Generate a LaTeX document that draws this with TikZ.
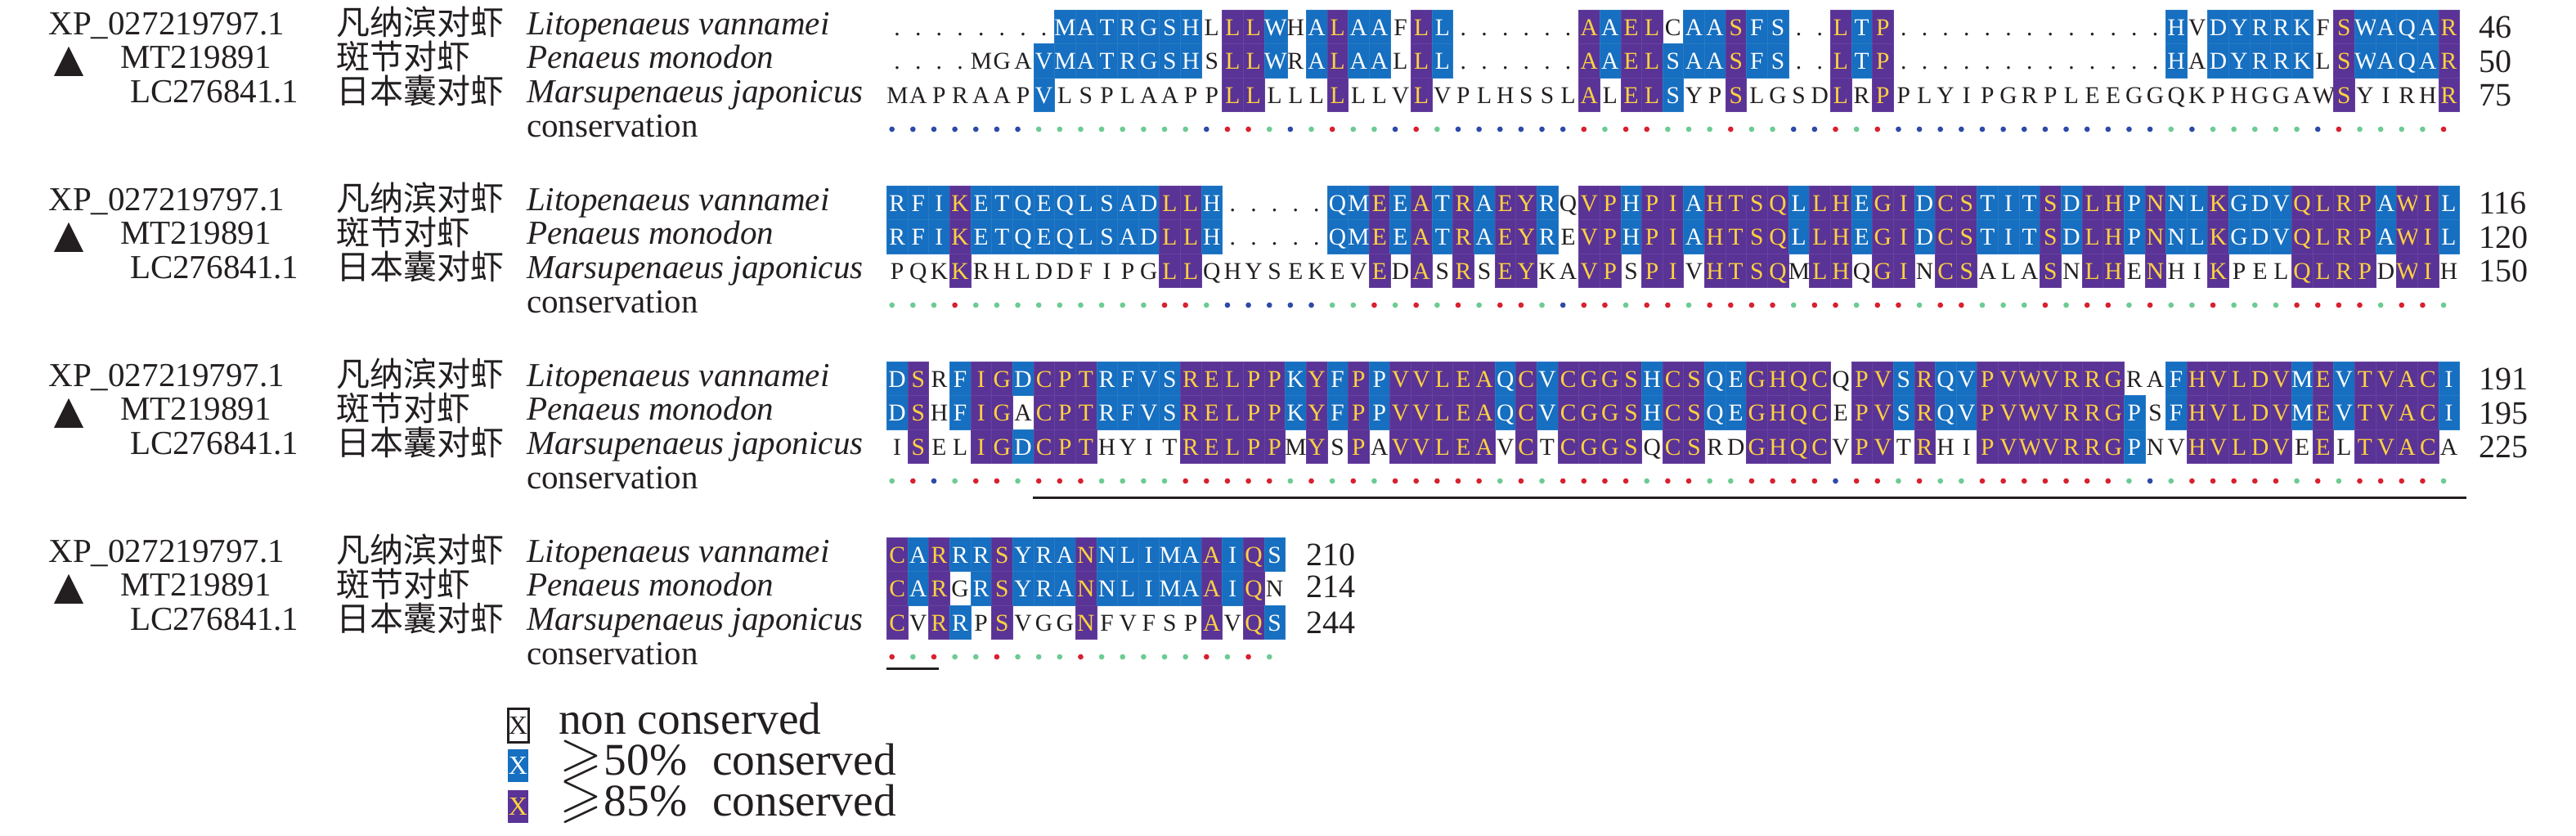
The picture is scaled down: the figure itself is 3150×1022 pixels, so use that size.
\documentclass[tikz,border=0pt]{standalone}
\usepackage{amssymb}
\usepackage{fontspec}
\setmainfont{Liberation Serif}
\newfontfamily\cjkfont{Noto Sans CJK SC}

\definecolor{inkblack}{HTML}{231F20}
\definecolor{consblue}{HTML}{166FC0}
\definecolor{conspurple}{HTML}{5A3396}
\definecolor{consyellow}{HTML}{FFD23F}
\definecolor{dotred}{HTML}{D9202E}
\definecolor{dotgreen}{HTML}{6CCB94}
\definecolor{dotblue}{HTML}{2D4AA8}

\newcount\colidx
% one row of residues: tag, top, letters, classes (n, b, p)
\def\scanrow#1#2\relax#3#4\relax{%
  \node[cell#3] (\rowtag-\the\colidx) at (1084.3+25.64*\the\colidx, \rowtop) {#1};%
  \advance\colidx by 1
  \ifx\relax#2\relax\else\scanrow#2\relax#4\relax\fi}
\newcommand{\seqrow}[4]{%
  \def\rowtag{#1}\def\rowtop{#2}\colidx=0
  \scanrow#3\relax#4\relax}
% the row of conservation dots: tag, y, classes (r, g, b)
\def\scandots#1#2\relax{%
  \node[dot#1] (\rowtag-\the\colidx) at (1090.7+25.64*\the\colidx, \rowtop) {};%
  \advance\colidx by 1
  \ifx\relax#2\relax\else\scandots#2\relax\fi}
\newcommand{\dotrow}[3]{%
  \def\rowtag{#1}\def\rowtop{#2}\colidx=0
  \scandots#3\relax}
\newcommand{\bigge}{{\fontsize{19}{19}\selectfont$\geqslant$}}

\begin{document}
\begin{tikzpicture}[
    x = 0.01cm,
    y = -0.01cm,
    every node/.style = {
      inner sep = 0pt,
      outer sep = 0pt,
      text = inkblack
    },
    cellbase/.style = {
      anchor = north west,
      minimum width = 0.2564cm,
      text height = 0.31cm,
      text depth = 0.105cm,
      font = \fontsize{8.4}{10}\selectfont
    },
    celln/.style = {
      cellbase
    },
    cellb/.style = {
      cellbase,
      fill = consblue,
      draw = consblue!92!white,
      line width = 0.1pt,
      text = white
    },
    cellp/.style = {
      cellbase,
      fill = conspurple,
      draw = conspurple!92!white,
      line width = 0.1pt,
      text = consyellow
    },
    dotbase/.style = {
      shape = circle,
      minimum size = 0.067cm
    },
    dotr/.style = {
      dotbase,
      fill = dotred
    },
    dotg/.style = {
      dotbase,
      fill = dotgreen
    },
    dotb/.style = {
      dotbase,
      fill = dotblue
    },
    idtext/.style = {
      anchor = base west,
      font = \fontsize{11.67}{13}\selectfont
    },
    cntext/.style = {
      anchor = base west,
      font = \fontsize{11.67}{13}\selectfont\cjkfont
    },
    latintext/.style = {
      anchor = base west,
      font = \fontsize{11.67}{13}\selectfont\itshape
    },
    numtext/.style = {
      anchor = base west,
      font = \fontsize{11.38}{13}\selectfont
    },
    keytext/.style = {
      anchor = base west,
      font = \fontsize{15.75}{18}\selectfont
    },
    keybase/.style = {
      anchor = north west,
      minimum width = 0.25cm,
      text height = 0.30cm,
      text depth = 0.10cm,
      font = \fontsize{9.1}{11}\selectfont
    },
    underline/.style = {
      draw = inkblack,
      line width = 0.03cm
    }
  ]
    \useasboundingbox (0, 0) rectangle (3150, 1022);

    \foreach \blk/\ytop in {1/12, 2/227, 3/442, 4/657} {
      \node[idtext] (xp\blk) at (59.5, \ytop+31) {XP\_027219797.1};
      \node[idtext] (mt\blk) at (147, \ytop+71.5) {MT219891};
      \node[idtext] (lc\blk) at (159, \ytop+113.5) {LC276841.1};
      \fill[inkblack] (66, \ytop+81) -- (84, \ytop+45) -- (102, \ytop+81) -- cycle;
      \node[cntext] (cna\blk) at (411, \ytop+31) {凡纳滨对虾};
      \node[cntext] (cnb\blk) at (411, \ytop+73) {斑节对虾};
      \node[cntext] (cnc\blk) at (411, \ytop+115) {日本囊对虾};
      \node[latintext] (lva\blk) at (644, \ytop+31) {Litopenaeus vannamei};
      \node[latintext] (lvb\blk) at (644, \ytop+71.5) {Penaeus monodon};
      \node[latintext] (lvc\blk) at (644, \ytop+113.5) {Marsupenaeus japonicus};
      \node[idtext] (cons\blk) at (644, \ytop+156) {conservation};
    }

    % block 1
    \seqrow{a1}{12}{........MATRGSHLLLWHALAAFLL......AAELCAASFS..LTP.............HVDYRRKFSWAQAR}
      {nnnnnnnn bbbbbbbnppbnbpbbnpb nnnnnn pbppnbbpbb nn pbp nnnnnnnnnnnnn bnbbbbbnpbbbbp}
    \seqrow{a2}{53.5}{....MGAVMATRGSHSLLWRALAALLL......AAELSAASFS..LTP.............HADYRRKLSWAQAR}
      {nnnn nnnb bbbbbbbnppbnbpbbnpb nnnnnn pbppbbbpbb nn pbp nnnnnnnnnnnnn bnbbbbbnpbbbbp}
    \seqrow{a3}{95}{MAPRAAPVLSPLAAPPLLLLLLLLVLVPLHSSLALELSYPSLGSDLRPPLYIPGRPLEEGGQKPHGGAWSYIRHR}
      {nnnnnnnb nnnnnnnn pp nnn p nnn p nnnnnnn p n pp b nn p nnnn p n p nnnnnnnnnnnnnnnnnnnnn p nnnn p}
    \dotrow{ad}{158}{bbbbbbb gggggggg b rr g b g r gg b r g bbbbbb r g rr ggg r gg bb r g r bbbbbbbbbbbbb g b ggggg b r gggg r}

    % block 2
    \seqrow{b1}{227}{RFIKETQEQLSADLLH.....QMEEATRAEYRQVPHPIAHTSQLLHEGIDCSTITSDLHPNNLKGDVQLRPAWIL}
      {bbb p bbbbbbbbb pp b nnnnn bb p b p b p b pp b n pp b pp b pppp b pp b pp b pp bbb p b pp b p bb p bbb pppp b pp b}
    \seqrow{b2}{268.5}{RFIKETQEQLSADLLH.....QMEEATRAEYREVPHPIAHTSQLLHEGIDCSTITSDLHPNNLKGDVQLRPAWIL}
      {bbb p bbbbbbbbb pp b nnnnn bb p b p b p b pp b n pp b pp b pppp b pp b pp b pp bbb p b pp b p bb p bbb pppp b pp b}
    \seqrow{b3}{310}{PQKKRHLDDFIPGLLQHYSEKEVEDASRSEYKAVPSPIVHTSQMLHQGINCSALASNLHENHIKPELQLRPDWIH}
      {nnn p nnnnnnnnn pp n nnnnn nn p n p n p n pp n n pp n pp n pppp n pp n pp n pp nnn p n pp n p nn p nnn pppp n pp n}
    \dotrow{bd}{373}{ggg r ggggggggg rr g bbbbb gg r g r g r g rr g b rr g rr g rrrr g rr g rr g rr ggg r g rr g r gg r ggg rrrr g rr g}

    % block 3
    \seqrow{c1}{442}{DSRFIGDCPTRFVSRELPPKYFPPVVLEAQCVCGGSHCSQEGHQCQPVSRQVPVWVRRGRAFHVLDVMEVTVACI}
      {b p n b pp b ppp bbbb ppppp b p b p b ppppp b p b pppp b pp bb pppp n pp b p bb ppppppp nn b ppppp b p b pppp b}
    \seqrow{c2}{483.5}{DSHFIGACPTRFVSRELPPKYFPPVVLEAQCVCGGSHCSQEGHQCEPVSRQVPVWVRRGPSFHVLDVMEVTVACI}
      {b p n b pp n ppp bbbb ppppp b p b p b ppppp b p b pppp b pp bb pppp n pp b p bb ppppppp bn b ppppp b p b pppp b}
    \seqrow{c3}{525}{ISELIGDCPTHYITRELPPMYSPAVVLEAVCTCGGSQCSRDGHQCVPVTRHIPVWVRRGPNVHVLDVEELTVACA}
      {n p nn pp b ppp nnnn ppppp n p n p n ppppp n p n pppp n pp nn pppp n pp n p nn ppppppp b nn ppppp n p n pppp n}
    \dotrow{cd}{588}{g r b g rr g rrr gggg rrrrr g r g r g rrrrr g r g rrrr g rr gg rrrr b rr g r gg rrrrrrr g b g rrrrr g r g rrrr g}

    % block 4
    \seqrow{d1}{657}{CARRRSYRANNLIMAAIQS}{p b p bb p bbb p bbbbb p b p b}
    \seqrow{d2}{698.5}{CARGRSYRANNLIMAAIQN}{p b p n b p bbb p bbbbb p b p n}
    \seqrow{d3}{740}{CVRRPSVGGNFVFSPAVQS}{p n p b n p nnn p nnnnn p n p b}
    \dotrow{dd}{803}{r g r gg r ggg r ggggg r g r g}

    \foreach \numval/\numx/\numy in {46/3031/47, 50/3031/89, 75/3031/130,
      116/3031/262, 120/3031/304, 150/3031/345,
      191/3031/477, 195/3031/519, 225/3031/560,
      210/1597/692, 214/1597/731, 244/1597/775} {
      \node[numtext] (num\numval) at (\numx, \numy) {\numval};
    }

    % underlined region
    \coordinate (ula) at (1263, 608.3);
    \coordinate (ulb) at (3016, 608.3);
    \coordinate (ulc) at (1084, 817.3);
    \coordinate (uld) at (1148, 817.3);
    \draw[underline] (ula) -- (ulb);
    \draw[underline] (ulc) -- (uld);

    % key
    \node[keybase, draw = inkblack, line width = 0.03cm] (keyn) at (621, 867) {X};
    \node[keybase, fill = consblue, text = white] (keyb) at (621, 916) {X};
    \node[keybase, fill = conspurple, text = consyellow] (keyp) at (621, 966) {X};
    \node[keytext] (keynt) at (683, 898) {non conserved};
    \node[keytext] (keybt) at (684, 948) {\bigge\hspace{0.05em}50\%\hspace{0.56em}conserved};
    \node[keytext] (keypt) at (684, 998) {\bigge\hspace{0.05em}85\%\hspace{0.56em}conserved};
  \end{tikzpicture}
\end{document}
